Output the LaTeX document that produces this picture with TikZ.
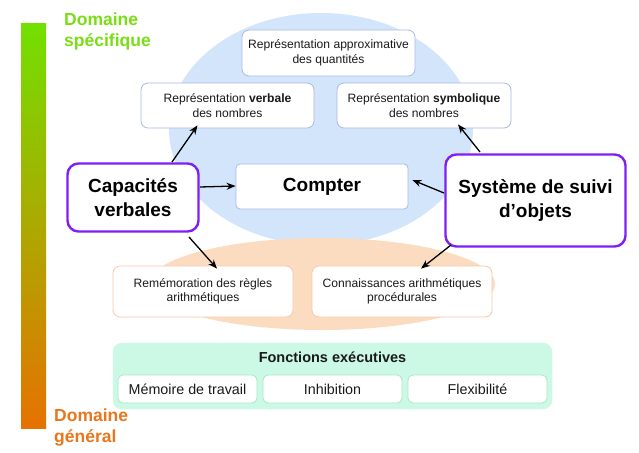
\documentclass[tikz,border=0pt]{standalone}
\usepackage{fontspec}
\setmainfont{Liberation Sans}
\usetikzlibrary{arrows.meta,shapes.geometric}
\definecolor{txt}{HTML}{1A1A1A}
\definecolor{blueell}{HTML}{D2E5FB}
\definecolor{orangeell}{HTML}{FCDCC0}
\definecolor{bluebd}{HTML}{A9B9E3}
\definecolor{orangebd}{HTML}{F9C8A9}
\definecolor{greenbg}{HTML}{CCF9E5}
\definecolor{greenbd}{HTML}{A6E8C6}
\definecolor{purplebd}{HTML}{7F1FF5}
\definecolor{gtop}{HTML}{72E000}
\definecolor{gbot}{HTML}{E67200}
\definecolor{gtext}{HTML}{79DE14}
\definecolor{otext}{HTML}{E8761C}
\tikzset{
  box/.style={draw=#1, fill=white, rounded corners=7pt, line width=0.8pt, align=center, text=txt, inner sep=0pt},
  smalltxt/.style={font=\fontsize{12.1}{14.5}\selectfont},
  bigbox/.style={draw=purplebd, fill=white, rounded corners=11pt, line width=2.4pt, align=center, text=black, inner sep=0pt, font=\fontsize{19}{24}\selectfont\bfseries},
  arr/.style={-{Stealth[length=9pt,width=7pt]}, line width=1.3pt, black},
}
\begin{document}
\begin{tikzpicture}[x=1pt,y=-1pt]
\useasboundingbox (0,0) rectangle (639,452);
\fill[white] (0,0) rectangle (639,452);
% gradient bar
\shade[top color=gtop, bottom color=gbot] (21,24) rectangle (46,428);
\node[anchor=north west, text=gtext, align=left, font=\fontsize{17.5}{21}\selectfont\bfseries, inner sep=0pt] (dspec) at (64,13) {Domaine\\spécifique};
\node[anchor=north west, text=otext, align=left, font=\fontsize{17.5}{21}\selectfont\bfseries, inner sep=0pt] (dgen) at (54,409) {Domaine\\général};
% ellipses
\fill[blueell] (321,129) ellipse [x radius=152, y radius=116];
\fill[orangeell] (322,284) ellipse [x radius=173, y radius=46];
% blue boxes
\node[box=bluebd, smalltxt, minimum width=173pt, minimum height=46pt] (approx) at (328.5,53) {Représentation approximative\\des quantités};
\node[box=bluebd, smalltxt, minimum width=173pt, minimum height=45pt] (verb) at (227.5,105.5) {Représentation \textbf{verbale}\\des nombres};
\node[box=bluebd, smalltxt, minimum width=174pt, minimum height=45pt] (symb) at (424,105.5) {Représentation \textbf{symbolique}\\des nombres};
\node[box=bluebd, rounded corners=4pt, minimum width=172pt, minimum height=45pt, font=\fontsize{19}{22}\selectfont\bfseries, text=black] (compter) at (322,186.5) {Compter};
% big boxes
\node[bigbox, minimum width=131pt, minimum height=68pt] (cap) at (133,197.5) {Capacités\\verbales};
\node[bigbox, minimum width=180pt, minimum height=92pt] (sys) at (535.5,200.5) {Système de suivi\\d’objets};
% orange boxes
\node[box=orangebd, smalltxt, minimum width=180pt, minimum height=51pt] (rem) at (203,291.5) {Remémoration des règles\\arithmétiques};
\node[box=orangebd, smalltxt, minimum width=180pt, minimum height=51pt] (conn) at (402,291.5) {Connaissances arithmétiques\\procédurales};
% executive functions
\node[draw=greenbg, fill=greenbg, rounded corners=9pt, minimum width=439pt, minimum height=66pt, inner sep=0pt] (fe) at (332.5,376) {};
\node[anchor=center, font=\fontsize{14.5}{17}\selectfont\bfseries, text=txt, inner sep=0pt] (fetitle) at (332.5,357) {Fonctions exécutives};
\node[box=greenbd, rounded corners=5pt, minimum width=139pt, minimum height=28pt, font=\fontsize{14.3}{17}\selectfont] (mem) at (187.5,389) {Mémoire de travail};
\node[box=greenbd, rounded corners=5pt, minimum width=139pt, minimum height=28pt, font=\fontsize{14.3}{17}\selectfont] (inh) at (332.5,389) {Inhibition};
\node[box=greenbd, rounded corners=5pt, minimum width=139pt, minimum height=28pt, font=\fontsize{14.3}{17}\selectfont] (flex) at (477.5,389) {Flexibilité};
% arrows
\coordinate (c1) at (172,162);
\coordinate (c2) at (200,187);
\coordinate (c3) at (189,237);
\coordinate (s1) at (480,152);
\coordinate (s2) at (444,193);
\coordinate (s3) at (451,245);
\draw[arr] (c1) -- ([xshift=-30pt,yshift=3pt]verb.south);
\draw[arr] (c2) -- ([yshift=0.5pt]compter.west);
\draw[arr] (c3) -- ([xshift=14pt,yshift=-3pt]rem.north);
\draw[arr] (s1) -- ([xshift=34pt,yshift=4pt]symb.south);
\draw[arr] (s2) -- ([xshift=4pt,yshift=6.5pt]compter.east);
\draw[arr] (s3) -- ([xshift=19pt,yshift=-3pt]conn.north);
\end{tikzpicture}
\end{document}
